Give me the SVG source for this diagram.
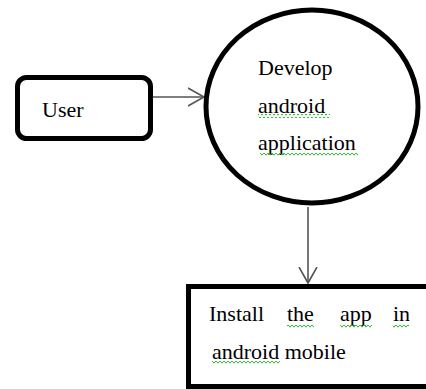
<svg xmlns="http://www.w3.org/2000/svg" width="426" height="389" viewBox="0 0 426 389">
  <style>
    .shape { fill: #ffffff; stroke: #000000; stroke-width: 5; }
    .label { font-family: 'Liberation Serif', 'Times New Roman', Times, 'DejaVu Serif', serif; font-size: 22px; fill: #000000; }
    .conn { stroke: #555555; stroke-width: 1.6; fill: none; }
    .squig { fill: url(#squiggle); }
  </style>
  <defs>
    <marker id="open" markerUnits="userSpaceOnUse" markerWidth="20" markerHeight="22" refX="16" refY="10" orient="auto" viewBox="0 0 20 22">
      <path d="M0,1 L16,10 L0,19" fill="none" stroke="#555555" stroke-width="1.6"/>
    </marker>
    <pattern id="squiggle" patternUnits="userSpaceOnUse" width="4" height="4">
      <polyline points="0,0.8 2,3.2 4,0.8" fill="none" stroke="#33b333" stroke-width="1"/>
    </pattern>
  </defs>

  <g id="connectors">
    <line class="conn" x1="153" y1="97" x2="204" y2="97" marker-end="url(#open)"/>
    <line class="conn" x1="308" y1="207" x2="308" y2="283" marker-end="url(#open)"/>
  </g>

  <g id="user">
    <rect class="shape" x="17.5" y="77.5" width="133" height="61" rx="9" ry="9"/>
    <text class="label" font-family="Liberation Serif, serif" x="42" y="117">User</text>
  </g>

  <g id="develop">
    <ellipse class="shape" cx="312" cy="106.5" rx="106" ry="96.5"/>
    <text class="label" font-family="Liberation Serif, serif" x="258" y="75">Develop</text>
    <text class="label" font-family="Liberation Serif, serif" x="258" y="113">android</text>
    <text class="label" font-family="Liberation Serif, serif" x="258" y="150">application</text>
    <rect class="squig" x="258" y="114" width="72" height="4"/>
    <rect class="squig" x="260" y="152" width="98" height="4"/>
  </g>

  <g id="install">
    <rect class="shape" x="188.5" y="286.5" width="260" height="100"/>
    <text class="label" font-family="Liberation Serif, serif" y="321"><tspan x="209">Install</tspan><tspan x="287">the</tspan><tspan x="340">app</tspan><tspan x="393">in</tspan></text>
    <text class="label" font-family="Liberation Serif, serif" x="212" y="359">android mobile</text>
    <rect class="squig" x="287" y="324" width="27" height="4"/>
    <rect class="squig" x="340" y="324" width="32" height="4"/>
    <rect class="squig" x="393" y="324" width="16" height="4"/>
    <rect class="squig" x="212" y="361" width="68" height="4"/>
  </g>
</svg>
